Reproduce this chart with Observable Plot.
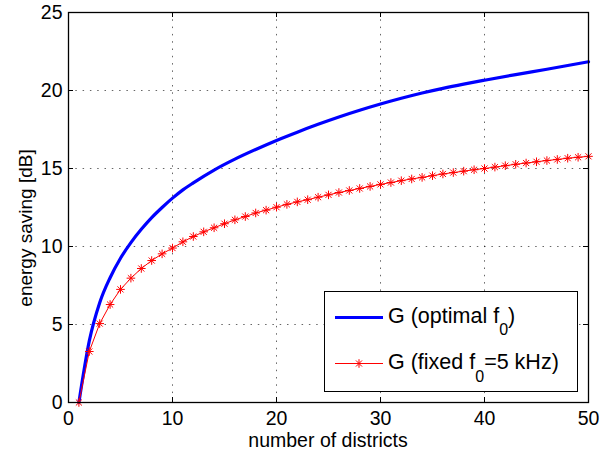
<!DOCTYPE html>
<html><head><meta charset="utf-8">
<script src="https://cdn.jsdelivr.net/npm/d3@7"></script>
<script src="https://cdn.jsdelivr.net/npm/@observablehq/plot@0.6"></script>
<style>html,body{margin:0;padding:0;background:#fff;} svg{display:block}</style>
</head><body><div id="chart"></div>
<script>
// ---- data ----
const xTicks = [0, 10, 20, 30, 40, 50];
const yTicks = [0, 5, 10, 15, 20, 25];
const xLabel = "number of districts";
const yLabel = "energy saving [dB]";
const seriesNames = ["G (optimal f", "G (fixed f"];

const optimalDistricts = [1,2,3,4,5,6,7,8,9,10,11,12,14,16,18,20,22,24,26,28,30,32,34,36,38,40,43,46,50];
const optimalGain = [0,3.95,6.4,8.0,9.25,10.25,11.1,11.85,12.5,13.1,13.63,14.08,14.9,15.6,16.22,16.8,17.33,17.83,18.3,18.73,19.13,19.5,19.84,20.14,20.41,20.66,21.02,21.36,21.84];

const fixedDistricts = [1,2,3,4,5,6,7,8,9,10,11,12,13,14,15,16,17,18,19,20,21,22,23,24,25,26,27,28,29,30,31,32,33,34,35,36,37,38,39,40,41,42,43,44,45,46,47,48,49,50];
const fixedGain = [0,3.27,5.06,6.28,7.25,7.97,8.59,9.1,9.53,9.9,10.3,10.64,10.94,11.2,11.46,11.71,11.92,12.15,12.33,12.52,12.7,12.86,13.0,13.16,13.31,13.46,13.59,13.72,13.85,13.98,14.1,14.22,14.33,14.43,14.54,14.65,14.74,14.83,14.92,15.0,15.09,15.18,15.27,15.35,15.43,15.51,15.58,15.66,15.72,15.78];

const optimal = optimalDistricts.map((d, i) => ({n: d, g: optimalGain[i]}));
const fixed = fixedDistricts.map((d, i) => ({n: d, g: fixedGain[i]}));

// MATLAB-like 8-spoke asterisk
const star8 = {
  draw(ctx, size) {
    const r = Math.sqrt(size / Math.PI);
    const d = r * Math.SQRT1_2;
    ctx.moveTo(-r, 0); ctx.lineTo(r, 0);
    ctx.moveTo(0, -r); ctx.lineTo(0, r);
    ctx.moveTo(-d, -d); ctx.lineTo(d, d);
    ctx.moveTo(-d, d); ctx.lineTo(d, -d);
  }
};

const W = 608, H = 451, mL = 68, mR = 20, mT = 12, mB = 49;
const innerH = H - mT - mB, innerW = W - mL - mR, tk = 5;
const FONT = "'Liberation Sans', Arial, Helvetica, sans-serif";
const gridStyle = {stroke: "#000", strokeOpacity: 0.6, strokeDasharray: "1.5,5.8", strokeWidth: 1};

const chart = Plot.plot({
  width: W, height: H,
  marginLeft: mL, marginRight: mR, marginTop: mT, marginBottom: mB,
  x: {domain: [0, 50], ticks: xTicks, label: null},
  y: {domain: [0, 25], ticks: yTicks, label: null},
  style: {fontFamily: FONT, fontSize: "19.5px", color: "#000", background: "#fff"},
  marks: [
    Plot.gridX(xTicks.slice(1, -1), gridStyle),
    Plot.gridY(yTicks.slice(1, -1), gridStyle),
    Plot.tickX(xTicks.slice(1, -1), {x: d => d, insetTop: innerH - tk, stroke: "#000"}),
    Plot.tickX(xTicks.slice(1, -1), {x: d => d, insetBottom: innerH - tk, stroke: "#000"}),
    Plot.tickY(yTicks.slice(1, -1), {y: d => d, insetRight: innerW - tk, stroke: "#000"}),
    Plot.tickY(yTicks.slice(1, -1), {y: d => d, insetLeft: innerW - tk, stroke: "#000"}),
    Plot.axisX(xTicks, {tickSize: 0, tickPadding: 8.5, label: null, fontSize: 19.5}),
    Plot.axisY(yTicks, {tickSize: 0, tickPadding: 6, label: null, fontSize: 19.5}),
    Plot.line(optimal, {x: "n", y: "g", stroke: "#0000ff", strokeWidth: 3.2, curve: "monotone-x"}),
    Plot.line(fixed, {x: "n", y: "g", stroke: "#ff0000", strokeWidth: 1}),
    Plot.dot(fixed, {x: "n", y: "g", symbol: star8, r: 4.3, stroke: "#ff0000", strokeWidth: 1, fill: "none"}),
    Plot.frame({stroke: "#000", strokeWidth: 1.3})
  ]
});
document.getElementById("chart").appendChild(chart);

const svg = d3.select(chart);
// axis titles
svg.append("text").attr("x", 328).attr("y", 447).attr("text-anchor", "middle")
  .attr("font-family", FONT).attr("font-size", 19.5).attr("fill", "#000").text(xLabel);
svg.append("text").attr("transform", "translate(32,228) rotate(-90)").attr("text-anchor", "middle")
  .attr("font-family", FONT).attr("font-size", 19).attr("fill", "#000").text(yLabel);

// legend
const lg = svg.append("g").attr("font-family", FONT).attr("font-size", 21.5).attr("fill", "#000")
  .attr("text-anchor", "start");
lg.append("rect").attr("x", 324.5).attr("y", 291.5).attr("width", 253).attr("height", 100)
  .attr("fill", "#fff").attr("stroke", "#000").attr("stroke-width", 1);
lg.append("line").attr("x1", 335).attr("x2", 383).attr("y1", 317.5).attr("y2", 317.5)
  .attr("stroke", "#0000ff").attr("stroke-width", 3.2);
lg.append("line").attr("x1", 335).attr("x2", 383).attr("y1", 363.5).attr("y2", 363.5)
  .attr("stroke", "#ff0000").attr("stroke-width", 1);
lg.append("path").attr("transform", "translate(359,363.5)")
  .attr("d", d3.symbol(star8, Math.PI * 4.3 * 4.3)()).attr("stroke", "#ff0000").attr("fill", "none");
const t1 = lg.append("text").attr("x", 388).attr("y", 323).attr("text-anchor", "start");
t1.append("tspan").text(seriesNames[0]);
t1.append("tspan").attr("font-size", 16).attr("dy", 12).text("0");
t1.append("tspan").attr("dy", -12).text(")");
const t2 = lg.append("text").attr("x", 388).attr("y", 369).attr("text-anchor", "start");
t2.append("tspan").text(seriesNames[1]);
t2.append("tspan").attr("font-size", 16).attr("dy", 13).text("0");
t2.append("tspan").attr("dy", -13).text("=5 kHz)");
</script>
</body></html>
